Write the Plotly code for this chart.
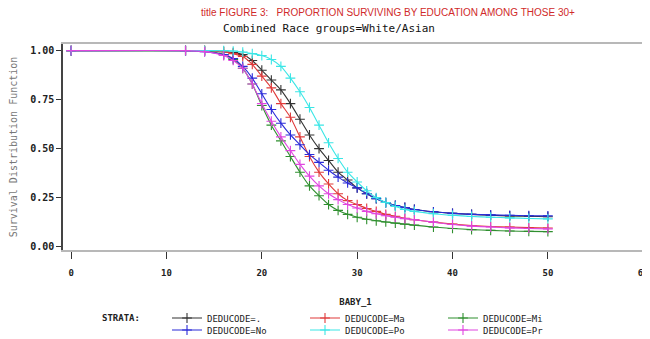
import plotly.graph_objects as go

# Time points (BABY_1)
baby_1 = [0, 12, 14, 16, 17, 18, 19, 20, 21, 22, 23, 24, 25, 26, 27, 28, 29, 30,
          31, 32, 33, 34, 35, 36, 38, 40, 42, 44, 46, 48, 50]

# Survival distribution function estimates per stratum
s_dot = [1, 1, 1, 0.995, 0.99, 0.98, 0.95, 0.90, 0.85, 0.80, 0.73, 0.65, 0.57, 0.50,
         0.44, 0.38, 0.34, 0.30, 0.27, 0.245, 0.225, 0.21, 0.20, 0.19, 0.178, 0.17,
         0.165, 0.16, 0.157, 0.155, 0.153]
s_ma = [1, 1, 1, 0.995, 0.985, 0.97, 0.93, 0.87, 0.81, 0.73, 0.66, 0.56, 0.46, 0.38,
        0.32, 0.27, 0.235, 0.215, 0.195, 0.18, 0.165, 0.155, 0.145, 0.138, 0.125,
        0.115, 0.108, 0.103, 0.10, 0.097, 0.095]
s_mi = [1, 1, 1, 0.98, 0.955, 0.91, 0.83, 0.72, 0.62, 0.54, 0.46, 0.38, 0.31, 0.26,
        0.215, 0.185, 0.165, 0.15, 0.14, 0.132, 0.126, 0.12, 0.115, 0.11, 0.10,
        0.093, 0.087, 0.083, 0.08, 0.078, 0.077]
s_no = [1, 1, 0.995, 0.98, 0.96, 0.92, 0.86, 0.78, 0.70, 0.63, 0.57, 0.52, 0.47, 0.43,
        0.39, 0.355, 0.325, 0.30, 0.27, 0.245, 0.225, 0.21, 0.20, 0.19, 0.178, 0.17,
        0.165, 0.162, 0.16, 0.158, 0.157]
s_po = [1, 1, 1, 1, 0.998, 0.993, 0.985, 0.975, 0.955, 0.92, 0.86, 0.79, 0.71, 0.62,
        0.53, 0.45, 0.38, 0.33, 0.285, 0.25, 0.225, 0.205, 0.19, 0.18, 0.168, 0.16,
        0.154, 0.15, 0.147, 0.144, 0.142]
s_pr = [1, 1, 0.995, 0.975, 0.95, 0.91, 0.83, 0.73, 0.64, 0.56, 0.49, 0.42, 0.36, 0.31,
        0.27, 0.24, 0.215, 0.197, 0.18, 0.168, 0.158, 0.15, 0.143, 0.137, 0.125,
        0.113, 0.105, 0.10, 0.096, 0.093, 0.091]

strata_names = ["DEDUCODE=.", "DEDUCODE=Ma", "DEDUCODE=Mi",
                "DEDUCODE=No", "DEDUCODE=Po", "DEDUCODE=Pr"]
strata_values = [s_dot, s_ma, s_mi, s_no, s_po, s_pr]
strata_colors = ["#333333", "#e03a3a", "#2f8f2f", "#2a2ad8", "#3ae6e6", "#e046e0"]
strata_legend = ["legend", "legend", "legend", "legend2", "legend2", "legend2"]

x_ticks = [0, 10, 20, 30, 40, 50, 60]
y_ticks = [0, 0.25, 0.5, 0.75, 1.0]

mono = "DejaVu Sans Mono"
OFF = 8  # the page places the figure 8 px in from the top-left corner
W_PLOT = 585.0
H_PLOT = 206.0

fig = go.Figure()
for name, vals, col, lg in zip(strata_names, strata_values, strata_colors, strata_legend):
    fig.add_trace(go.Scatter(
        x=baby_1, y=vals, name=name, mode="lines+markers",
        line=dict(color=col, width=1.1, shape="spline", smoothing=0.6),
        marker=dict(symbol="cross-thin-open", size=7, line=dict(color=col, width=1.1)),
        legend=lg,
    ))

leg_common = dict(orientation="h", xanchor="left", yanchor="middle",
                  entrywidth=93, font=dict(family=mono, size=9, color="#222"),
                  itemwidth=30, bgcolor="rgba(0,0,0,0)", tracegroupgap=0)

fig.update_layout(
    width=650 - OFF, height=339 - OFF,
    margin=dict(l=63 - OFF, r=2, t=44 - OFF, b=89, autoexpand=False),
    paper_bgcolor="white", plot_bgcolor="white",
    showlegend=True,
    legend=dict(x=(167 - 63) / W_PLOT, y=-(318 - 250) / H_PLOT, **leg_common),
    legend2=dict(x=(167 - 63) / W_PLOT, y=-(330 - 250) / H_PLOT, **leg_common),
    xaxis=dict(range=[-0.85, 60.5], tickvals=x_ticks, ticks="outside", ticklen=7,
               tickcolor="#333", tickwidth=1, showgrid=False, zeroline=False,
               showline=True, linecolor="#b8b8b8", linewidth=2, mirror=True,
               automargin=False, ticklabelstandoff=6,
               tickfont=dict(family=mono, size=9, color="#222", weight="bold"),
               title=dict(text="BABY_1", font=dict(family=mono, size=9, color="#222",
                                                   weight="bold"),
                          standoff=22)),
    yaxis=dict(range=[-0.017, 1.034], tickvals=y_ticks, tickformat=".2f",
               ticks="outside", ticklen=5, tickcolor="#333", tickwidth=1,
               showgrid=False, zeroline=False, showline=True, linecolor="#444",
               linewidth=1.5, mirror=False, automargin=False,
               tickfont=dict(family=mono, size=10, color="#222", weight="bold"),
               title=dict(text="Survival Distribution Function",
                          font=dict(family=mono, size=10, color="#777"), standoff=14)),
)

fig.add_annotation(text="title FIGURE 3:   PROPORTION SURVIVING BY EDUCATION AMONG THOSE 30+",
                   xref="paper", yref="paper", x=(388 - 63) / W_PLOT, y=1 + (44 - 12) / H_PLOT,
                   showarrow=False, xanchor="center", yanchor="middle",
                   font=dict(family="Liberation Sans Narrow, Arial Narrow, Liberation Sans",
                             size=10, color="#d02a2a"))
fig.add_annotation(text="Combined Race groups=White/Asian",
                   xref="paper", yref="paper", x=(329 - 63) / W_PLOT, y=1 + (44 - 28) / H_PLOT,
                   showarrow=False, xanchor="center", yanchor="middle",
                   font=dict(family=mono, size=11, color="#111"))
fig.add_annotation(text="STRATA:",
                   xref="paper", yref="paper", x=(100 - 63) / W_PLOT, y=-(318 - 250) / H_PLOT,
                   showarrow=False, xanchor="left", yanchor="middle",
                   font=dict(family=mono, size=9, color="#222", weight="bold"))

fig.write_html("out.html")
